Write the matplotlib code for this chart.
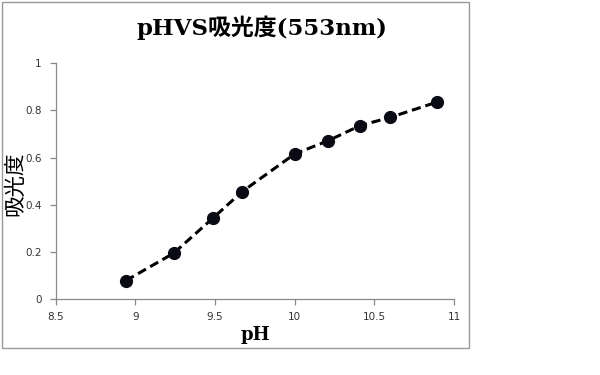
import matplotlib
matplotlib.use('Agg')
import matplotlib.pyplot as plt
from matplotlib.patches import Rectangle

# pH vs absorbance at 553 nm
ph = [8.94, 9.24, 9.49, 9.67, 10.0, 10.21, 10.41, 10.60, 10.89]
absorbance = [0.079, 0.195, 0.346, 0.456, 0.616, 0.672, 0.736, 0.771, 0.835]
xticks = [8.5, 9, 9.5, 10, 10.5, 11]
xticklabels = ['8.5', '9', '9.5', '10', '10.5', '11']
yticks = [0, 0.2, 0.4, 0.6, 0.8, 1]
yticklabels = ['0', '0.2', '0.4', '0.6', '0.8', '1']

serif_jp = ['DejaVu Serif', 'Noto Sans CJK JP']


def main():
    fig = plt.figure(figsize=(6, 3.75), dpi=100)

    # grey chart-area border
    fig.patches.append(Rectangle((2 / 600, 1 - 348 / 375), 467 / 600, 346 / 375,
                                 transform=fig.transFigure, fill=False,
                                 edgecolor='#999999', linewidth=1.0))

    ax = fig.add_axes([0.0928, 0.2019, 0.664, 0.6293])
    ax.plot(ph, absorbance, linestyle=(0, (3, 1.6)), color='black', linewidth=2.2,
            marker='o', markersize=8.5, markerfacecolor='#0a0a14',
            markeredgecolor='#0a0a14')

    ax.set_xlim(8.5, 11)
    ax.set_ylim(0, 1)
    ax.set_xticks(xticks)
    ax.set_xticklabels(xticklabels)
    ax.set_yticks(yticks)
    ax.set_yticklabels(yticklabels)
    ax.spines['top'].set_visible(False)
    ax.spines['right'].set_visible(False)
    for s in ('left', 'bottom'):
        ax.spines[s].set_color('#888888')
        ax.spines[s].set_linewidth(0.9)
    ax.tick_params(axis='both', colors='#888888', length=4, width=0.9,
                   labelsize=7.5, labelcolor='#333333')
    ax.tick_params(axis='y', pad=6)
    ax.tick_params(axis='x', pad=5)

    fig.text(0.437, 0.925, 'pHVS吸光度(553nm)', ha='center', va='center',
             fontsize=16.5, fontweight='bold', family=serif_jp)
    fig.text(0.425, 0.107, 'pH', ha='center', va='center',
             fontsize=13, fontweight='bold', family=serif_jp)
    fig.text(0.025, 0.51, '吸光度', ha='center', va='center', rotation=90,
             fontsize=15.5, family=serif_jp)

    fig.savefig('out.png', dpi=100, facecolor='white')


if __name__ == '__main__':
    main()
